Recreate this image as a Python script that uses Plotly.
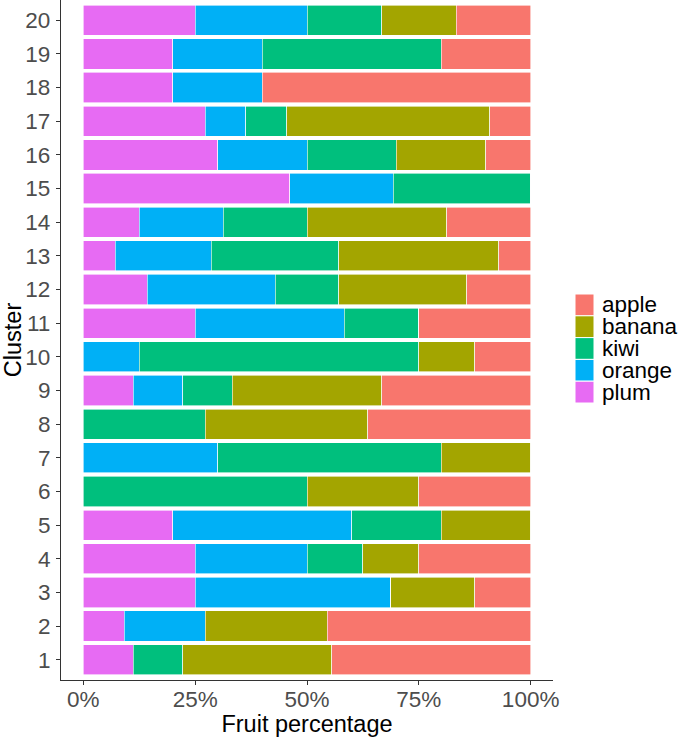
import plotly.graph_objects as go

clusters = [str(i) for i in range(1, 21)]
# percentages per cluster (1..20)
plum   = [11.11, 9.09, 25.0, 25.0, 20.0, 0, 0, 0, 11.11, 0, 25.0, 14.29, 7.14, 12.5, 46.15, 30.0, 27.27, 20.0, 20.0, 25.0]
orange = [0, 18.18, 43.75, 25.0, 40.0, 0, 30.0, 0, 11.11, 12.5, 33.33, 28.57, 21.43, 18.75, 23.08, 20.0, 9.09, 20.0, 20.0, 25.0]
kiwi   = [11.11, 0, 0, 12.5, 20.0, 50.0, 50.0, 27.27, 11.11, 62.5, 16.67, 14.29, 28.57, 18.75, 30.77, 20.0, 9.09, 0, 40.0, 16.67]
banana = [33.33, 27.27, 18.75, 12.5, 20.0, 25.0, 20.0, 36.36, 33.33, 12.5, 0, 28.57, 35.71, 31.25, 0, 20.0, 45.45, 0, 0, 16.67]
apple  = [44.44, 45.45, 12.5, 25.0, 0, 25.0, 0, 36.36, 33.33, 12.5, 25.0, 14.29, 7.14, 18.75, 0, 10.0, 9.09, 60.0, 20.0, 16.67]

series = [("plum", plum, "#E76BF3"), ("orange", orange, "#00B0F6"),
          ("kiwi", kiwi, "#00BF7D"), ("banana", banana, "#A3A500"),
          ("apple", apple, "#F8766D")]

ticks = [0, 25, 50, 75, 100]
tick_labels = ["0%", "25%", "50%", "75%", "100%"]

W, H = 684, 737
ML, MR, MT, MB = 61, 131, 0, 57

yvals = [int(c) for c in clusters]
fig = go.Figure()
for name, vals, col in series:
    fig.add_trace(go.Bar(y=yvals, x=vals, orientation="h", name=name,
                         marker=dict(color=col, line=dict(color="white", width=0.6)),
                         showlegend=False))

# manual legend (apple on top), keys drawn as paper shapes
font = "Liberation Sans, Arial, sans-serif"
pw, ph = W - ML - MR, H - MT - MB
key_x0, key_x1 = 575, 594
key_top, key_h = 294, 21.8
shapes, annots = [], []
for i, (name, vals, col) in enumerate(reversed(series)):
    y0 = key_top + i * key_h
    y1 = y0 + key_h
    shapes.append(dict(type="rect", xref="paper", yref="paper",
                       x0=(key_x0 - ML) / pw, x1=(key_x1 - ML) / pw,
                       y0=1 - (y1 - MT) / ph, y1=1 - (y0 - MT) / ph,
                       fillcolor=col, line=dict(color="white", width=1)))
    annots.append(dict(text=name, xref="paper", yref="paper", showarrow=False,
                       x=(601 - ML) / pw, xanchor="left",
                       y=1 - ((y0 + y1) / 2 - MT) / ph, yanchor="middle",
                       borderpad=0,
                       font=dict(size=22.5, color="black", family=font)))

fig.update_layout(
    width=W, height=H,
    barmode="stack", bargap=0.1,
    plot_bgcolor="white", paper_bgcolor="white",
    margin=dict(l=ML, r=MR, t=MT, b=MB),
    font=dict(family=font),
    showlegend=False,
    shapes=shapes, annotations=annots,
    xaxis=dict(range=[-5, 105], tickvals=ticks, ticktext=tick_labels, automargin=False,
               showgrid=False, zeroline=False, showline=True, linecolor="#333333",
               linewidth=1.2, ticks="outside", ticklen=4, tickcolor="#333333",
               ticklabelstandoff=-5,
               tickfont=dict(size=22.5, color="#4D4D4D"),
               title=dict(text="Fruit percentage", font=dict(size=23.5, color="black"), standoff=7)),
    yaxis=dict(range=[0.4, 20.6], tickvals=yvals, ticktext=clusters, automargin=False,
               showgrid=False, zeroline=False, showline=True, linecolor="#333333",
               linewidth=1.2, ticks="outside", ticklen=4, tickcolor="#333333",
               ticklabelstandoff=1,
               tickfont=dict(size=22.5, color="#4D4D4D"),
               title=dict(text="Cluster", font=dict(size=23.5, color="black"), standoff=7)),
)
fig.write_html("out.html", config={"displayModeBar": False},
               post_script="document.body.style.margin='0px';")
